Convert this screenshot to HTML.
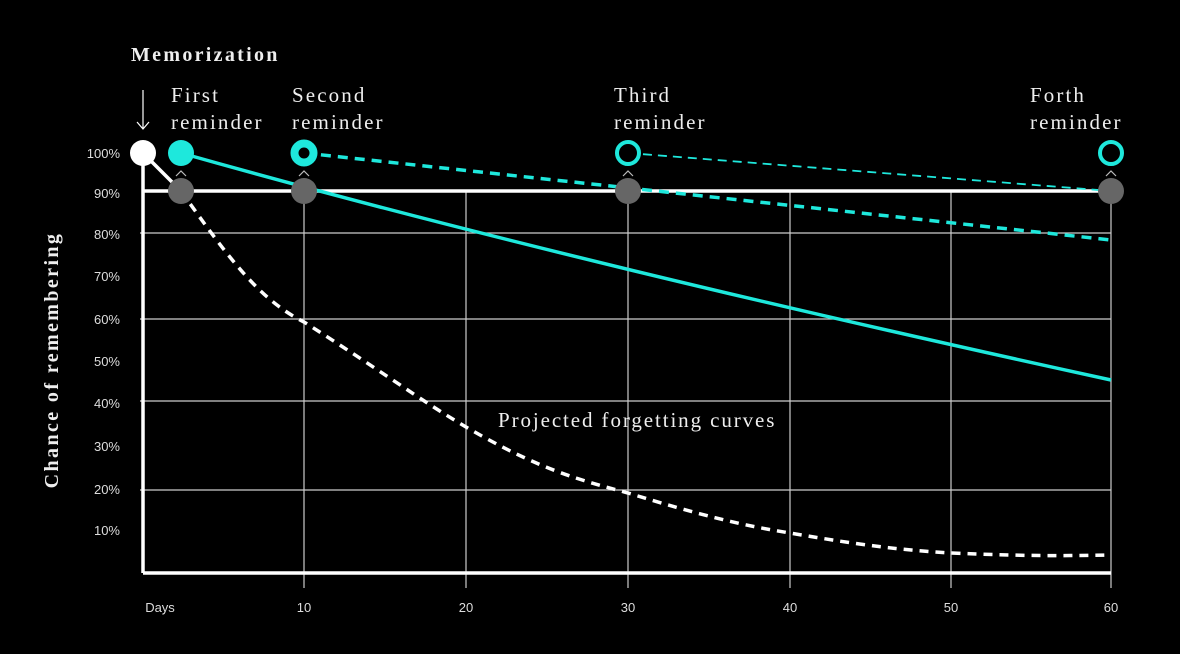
<!DOCTYPE html>
<html><head><style>
html,body{margin:0;padding:0;background:#000;width:1180px;height:654px;overflow:hidden}
svg{display:block}
.s{font-family:"Liberation Serif",serif;fill:#eee}
.t{font-family:"Liberation Sans",sans-serif;fill:#ddd;font-size:13px}
</style></head><body>
<svg width="1180" height="654" viewBox="0 0 1180 654">
<rect width="1180" height="654" fill="#000"/>
<g stroke="#ccc" stroke-width="1.2">
<line x1="304" y1="191" x2="304" y2="588"/><line x1="466" y1="191" x2="466" y2="588"/>
<line x1="628" y1="191" x2="628" y2="588"/><line x1="790" y1="191" x2="790" y2="588"/>
<line x1="951" y1="191" x2="951" y2="588"/><line x1="1111" y1="191" x2="1111" y2="588"/>
<line x1="140" y1="233" x2="1111" y2="233"/><line x1="140" y1="319" x2="1111" y2="319"/>
<line x1="140" y1="401" x2="1111" y2="401"/><line x1="140" y1="490" x2="1111" y2="490"/>
</g>
<g stroke="#fff" stroke-width="3.5" fill="none">
<line x1="143" y1="153" x2="143" y2="573"/><line x1="143" y1="573" x2="1111" y2="573"/>
<line x1="143" y1="191" x2="1111" y2="191"/>
<line x1="143" y1="153" x2="181" y2="191"/>
<path d="M181,191 C230,260 260,300 304,322 C380,370 420,400 466,427 C540,470 580,480 628,493 C700,515 740,525 790,533 C860,545 900,550 951,553 C1020,556 1060,556 1111,555" stroke-dasharray="9,7"/>
</g>
<line x1="143" y1="90" x2="143" y2="128" stroke="#fff" stroke-width="1.2"/>
<path d="M137,122 L143,129 L149,122" stroke="#fff" stroke-width="1.2" fill="none"/>
<g stroke="#1ee8dc" fill="none">
<path d="M181,153 Q560,260 1111,380" stroke-width="3.5"/>
<line x1="304" y1="153" x2="1111" y2="240" stroke-width="3.5" stroke-dasharray="10,7"/>
<line x1="628" y1="153" x2="1111" y2="191" stroke-width="1.8" stroke-dasharray="9,6"/>
</g>
<g fill="#666">
<circle cx="181" cy="191" r="13"/><circle cx="304" cy="191" r="13"/>
<circle cx="628" cy="191" r="13"/><circle cx="1111" cy="191" r="13"/>
</g>
<circle cx="143" cy="153" r="13" fill="#fff"/>
<circle cx="181" cy="153" r="13" fill="#1ee8dc"/>
<circle cx="304" cy="153" r="9.5" fill="#000" stroke="#1ee8dc" stroke-width="8"/>
<circle cx="628" cy="153" r="11" fill="#000" stroke="#1ee8dc" stroke-width="4"/>
<circle cx="1111" cy="153" r="11" fill="#000" stroke="#1ee8dc" stroke-width="4"/>
<g stroke="#bbb" stroke-width="1.2" fill="none">
<path d="M176,176 L181,171 L186,176"/><path d="M299,176 L304,171 L309,176"/>
<path d="M623,176 L628,171 L633,176"/><path d="M1106,176 L1111,171 L1116,176"/>
</g>
<text class="s" x="131" y="61" font-size="20" font-weight="bold" fill="#fff" letter-spacing="2.3">Memorization</text>
<g class="s" font-size="21" letter-spacing="2.1">
<text x="171" y="102">First</text><text x="171" y="129">reminder</text>
<text x="292" y="102">Second</text><text x="292" y="129">reminder</text>
<text x="614" y="102">Third</text><text x="614" y="129">reminder</text>
<text x="1030" y="102">Forth</text><text x="1030" y="129">reminder</text>
<text x="498" y="427" letter-spacing="1.9">Projected forgetting curves</text>
</g>
<g class="t" text-anchor="end">
<text x="120" y="158">100%</text><text x="120" y="198">90%</text><text x="120" y="239">80%</text>
<text x="120" y="281">70%</text><text x="120" y="324">60%</text><text x="120" y="366">50%</text>
<text x="120" y="408">40%</text><text x="120" y="451">30%</text><text x="120" y="494">20%</text>
<text x="120" y="535">10%</text>
</g>
<g class="t" text-anchor="middle">
<text x="160" y="612">Days</text><text x="304" y="612">10</text><text x="466" y="612">20</text>
<text x="628" y="612">30</text><text x="790" y="612">40</text><text x="951" y="612">50</text>
<text x="1111" y="612">60</text>
</g>
<text class="s" transform="translate(58,360) rotate(-90)" text-anchor="middle" font-size="20" font-weight="bold" fill="#fff" letter-spacing="2.4">Chance of remembering</text>
</svg>
</body></html>
